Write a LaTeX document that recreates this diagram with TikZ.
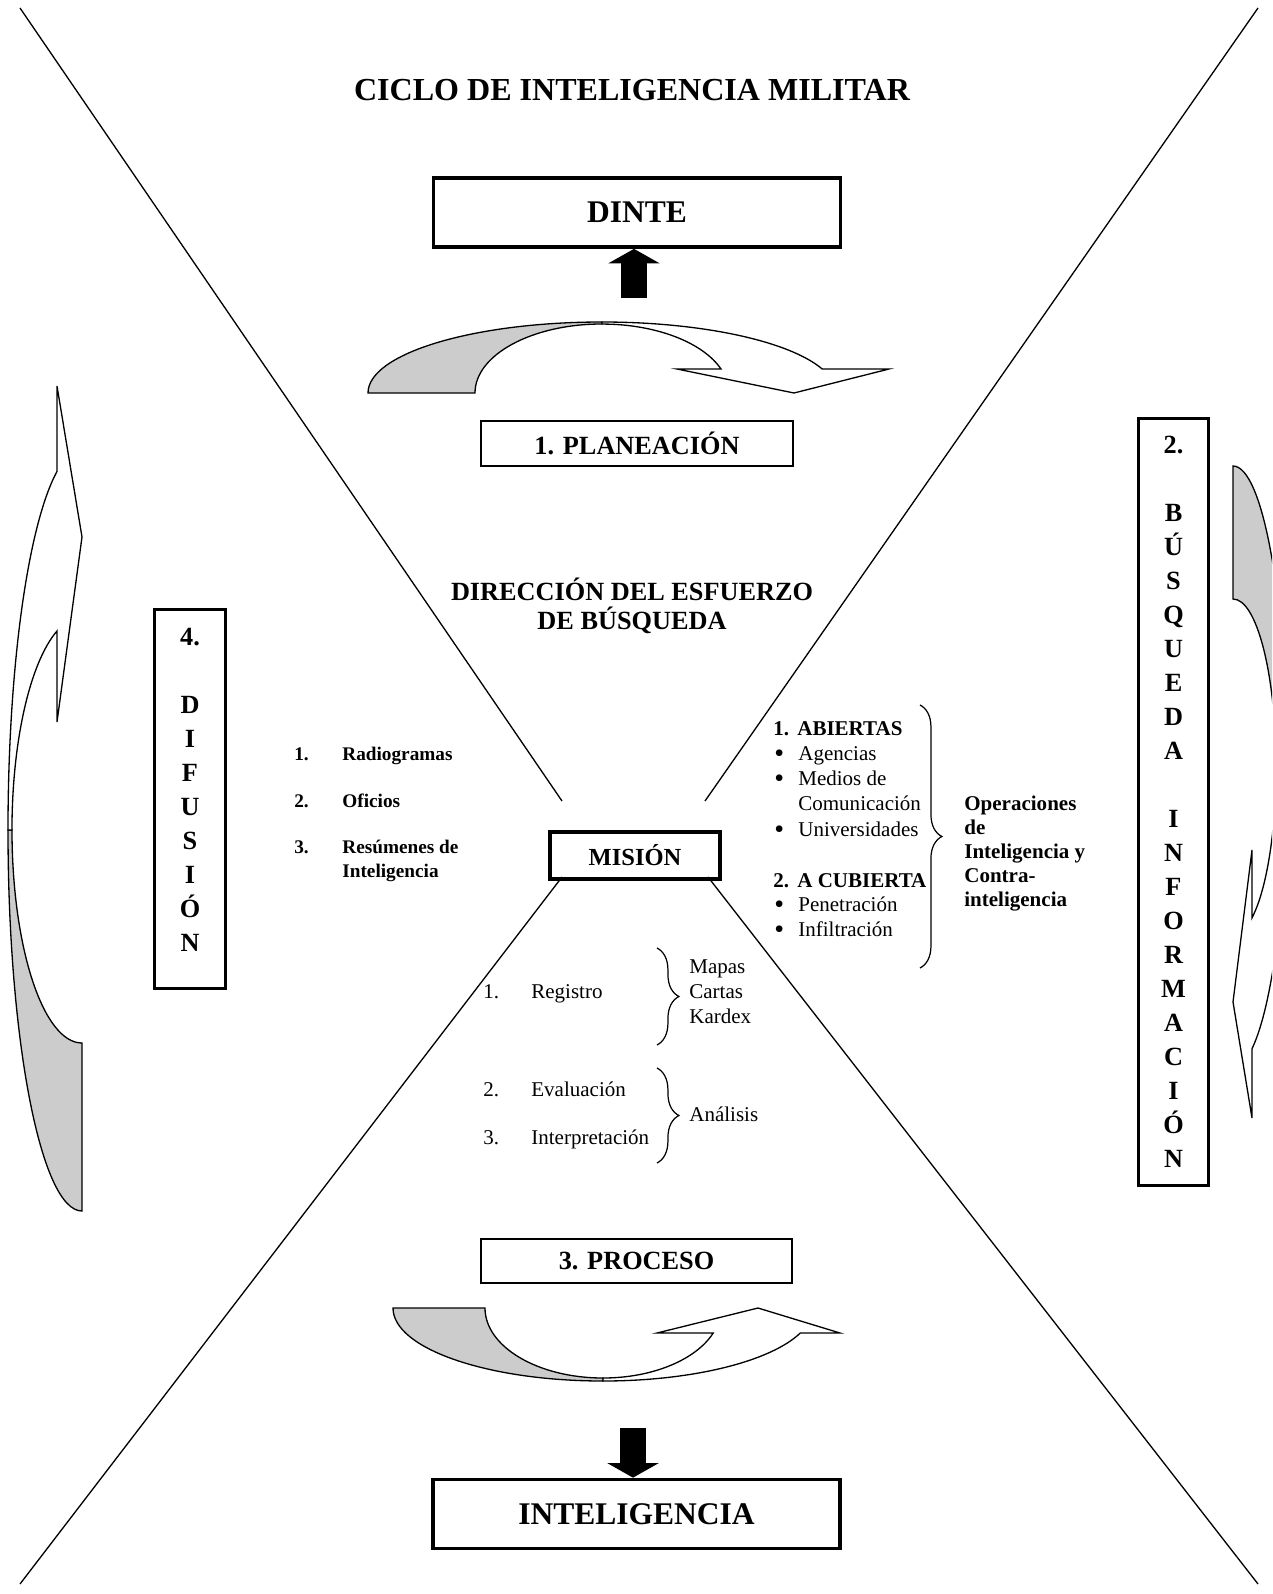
\documentclass[tikz,border=0pt]{standalone}
\usepackage{fontspec}
\setmainfont{Liberation Serif}
\usetikzlibrary{arrows.meta, decorations.pathreplacing}

\newcommand{\bulitem}{\makebox[13.7pt][l]{\raisebox{-1.2pt}{\fontsize{16}{16}\selectfont\textbullet}}}

\begin{document}
\begin{tikzpicture}[
        x=0.571pt, y=-0.571pt,
        titlebox/.style={
            draw,
            line width=2pt,
            inner sep=0pt,
            minimum width=232.5pt,
            minimum height=39.5pt,
            font=\bfseries\fontsize{18}{22}\selectfont
        },
        stagebox/.style={
            draw,
            line width=1.2pt,
            inner sep=0pt,
            minimum width=178pt,
            minimum height=25.5pt,
            font=\bfseries\fontsize{15}{18}\selectfont
        },
        misionbox/.style={
            draw,
            line width=2.3pt,
            inner sep=0pt,
            minimum width=97pt,
            minimum height=26.8pt,
            font=\bfseries\fontsize{14}{17}\selectfont
        },
        sidebox/.style={
            draw,
            line width=1.7pt,
            inner sep=0pt,
            minimum width=40.5pt,
            align=center,
            font=\bfseries\fontsize{15}{19.4}\selectfont
        },
        backband/.style={draw, fill=black!20, line width=0.75pt},
        frontband/.style={draw, fill=white, line width=0.75pt},
        blockarrow/.style={line width=14.8pt, -{Triangle[length=8.3pt, width=29pt]}},
        diagline/.style={line width=0.75pt},
        rmtext/.style={anchor=base west, inner sep=0pt, font=\fontsize{12}{14}\selectfont},
        bftext/.style={rmtext, font=\bfseries\fontsize{12}{14}\selectfont},
        smallbf/.style={rmtext, font=\bfseries\fontsize{11}{13}\selectfont},
        listbrace/.style={decorate, decoration={brace, amplitude=12.5pt}, line width=0.7pt}
    ]
        \useasboundingbox (0,0) rectangle (1272,1594);

        \node[anchor=base, font=\bfseries\fontsize{18.3}{22}\selectfont] (title) at (632,101) {CICLO DE INTELIGENCIA MILITAR};

        \node[titlebox] (dinte) at (637,212.5) {DINTE};
        \node[stagebox] (planeacion) at (637,443.5) {1. PLANEACIÓN};
        \node[align=center, font=\bfseries\fontsize{15}{16.6}\selectfont] (direccion) at (632,606) {DIRECCIÓN DEL ESFUERZO\\DE BÚSQUEDA};
        \node[misionbox] (mision) at (635,855.5) {MISIÓN};
        \node[stagebox] (proceso) at (636.5,1261) {3. PROCESO};
        \node[titlebox] (inteligencia) at (636.5,1514) {INTELIGENCIA};

        \node[sidebox, minimum height=216.4pt] (difusion) at (190,799) {4.\\[19.4pt]D\\I\\F\\U\\S\\I\\Ó\\N\\[-8.9pt]\mbox{}};
        \node[sidebox, minimum height=438pt] (busqueda) at (1173.5,802) {2.\\[19.4pt]B\\Ú\\S\\Q\\U\\E\\D\\A\\[19.4pt]I\\N\\F\\O\\R\\M\\A\\C\\I\\Ó\\N};

        \coordinate (cornerNW) at (20,8);
        \coordinate (cornerNE) at (1258,8);
        \coordinate (cornerSW) at (20,1584);
        \coordinate (cornerSE) at (1258,1584);
        \coordinate (misNW) at (562,801);
        \coordinate (misNE) at (705,801);
        \coordinate (misSW) at (562,877);
        \coordinate (misSE) at (708,877);
        \draw[diagline] (cornerNW) -- (misNW);
        \draw[diagline] (cornerNE) -- (misNE);
        \draw[diagline] (misSW) -- (cornerSW);
        \draw[diagline] (misSE) -- (cornerSE);

        \coordinate (upfoot) at (634,298);
        \draw[blockarrow] (upfoot) -- (upfoot |- dinte.south);
        \coordinate (downtop) at (633,1428);
        \draw[blockarrow] (downtop) -- (downtop |- inteligencia.north);

        \draw[backband] (368,393) arc[start angle=180, end angle=270, x radius=234, y radius=71]
            -- (602,324) arc[start angle=270, end angle=180, x radius=127, y radius=69] -- cycle;
        \draw[frontband] (602,322) arc[start angle=270, end angle=340.24, x radius=234, y radius=71]
            -- (889,369) -- (794,393) -- (677,369) -- (721,369)
            arc[start angle=339.6, end angle=270, x radius=127, y radius=69] -- cycle;

        \draw[backband] (393,1308) arc[start angle=180, end angle=90, x radius=210, y radius=73]
            -- (603,1378) arc[start angle=90, end angle=180, x radius=118, y radius=70] -- cycle;
        \draw[frontband] (603,1381) arc[start angle=90, end angle=20, x radius=210, y radius=73]
            -- (840,1333) -- (758,1308) -- (657,1333) -- (713.2,1333)
            arc[start angle=20.92, end angle=90, x radius=118, y radius=70] -- cycle;

        \draw[backband] (82,1211) arc[start angle=90, end angle=180, x radius=74, y radius=381]
            -- (12,830) arc[start angle=180, end angle=90, x radius=70, y radius=213] -- cycle;
        \draw[frontband] (8,830) arc[start angle=180, end angle=250.25, x radius=74, y radius=381]
            -- (57,386) -- (82,537) -- (57,722) -- (57,631)
            arc[start angle=249.1, end angle=180, x radius=70, y radius=213] -- cycle;

        \begin{scope}
            \clip (0,0) rectangle (1272,1594);
            \draw[backband] (1233,466) arc[start angle=270, end angle=360, x radius=54, y radius=301]
                -- (1276,767) arc[start angle=0, end angle=-90, x radius=43, y radius=168] -- cycle;
            \draw[frontband] (1287,767) arc[start angle=0, end angle=69.4, x radius=54, y radius=301]
                -- (1252,1118) -- (1233,1002) -- (1252,850) -- (1252,917.8)
                arc[start angle=63.8, end angle=0, x radius=43, y radius=168] -- cycle;
        \end{scope}

        \node[smallbf] (radnum) at (294,760) {1.};
        \node[smallbf] (radio) at (342,760) {Radiogramas};
        \node[smallbf] (ofinum) at (294,807) {2.};
        \node[smallbf] (oficios) at (342,807) {Oficios};
        \node[smallbf] (resnum) at (294,853) {3.};
        \node[smallbf] (resumenes) at (342,853) {Resúmenes de};
        \node[smallbf] (resintel) at (342,877) {Inteligencia};

        \node[bftext] (abiertas) at (773,735) {\makebox[13.7pt][l]{1.}ABIERTAS};
        \node[rmtext] (agencias) at (774,760) {\bulitem Agencias};
        \node[rmtext] (medios) at (774,785) {\bulitem Medios de};
        \node[rmtext] (comunic) at (798,810) {Comunicación};
        \node[rmtext] (univ) at (774,836) {\bulitem Universidades};
        \node[bftext] (cubierta) at (773,887) {\makebox[13.7pt][l]{2.}A CUBIERTA};
        \node[rmtext] (penet) at (774,911) {\bulitem Penetración};
        \node[rmtext] (infil) at (774,936) {\bulitem Infiltración};
        \draw[listbrace] (920,705) -- (920,968);
        \node[bftext, anchor=west, align=left, font=\bfseries\fontsize{12}{13.8}\selectfont] (operaciones) at (964,853.5) {Operaciones\\de\\Inteligencia y\\Contra-\\inteligencia};

        \node[rmtext] (regnum) at (483,998) {1.};
        \node[rmtext] (registro) at (531,998) {Registro};
        \node[rmtext] (evanum) at (483,1096) {2.};
        \node[rmtext] (evaluacion) at (531,1096) {Evaluación};
        \node[rmtext] (intnum) at (483,1144) {3.};
        \node[rmtext] (interpret) at (531,1144) {Interpretación};
        \draw[listbrace] (657,948) -- (657,1045);
        \draw[listbrace] (657,1068) -- (657,1163);
        \node[rmtext] (mapas) at (689,973) {Mapas};
        \node[rmtext] (cartas) at (689,998) {Cartas};
        \node[rmtext] (kardex) at (689,1023) {Kardex};
        \node[rmtext] (analisis) at (689,1121) {Análisis};
    \end{tikzpicture}
\end{document}
